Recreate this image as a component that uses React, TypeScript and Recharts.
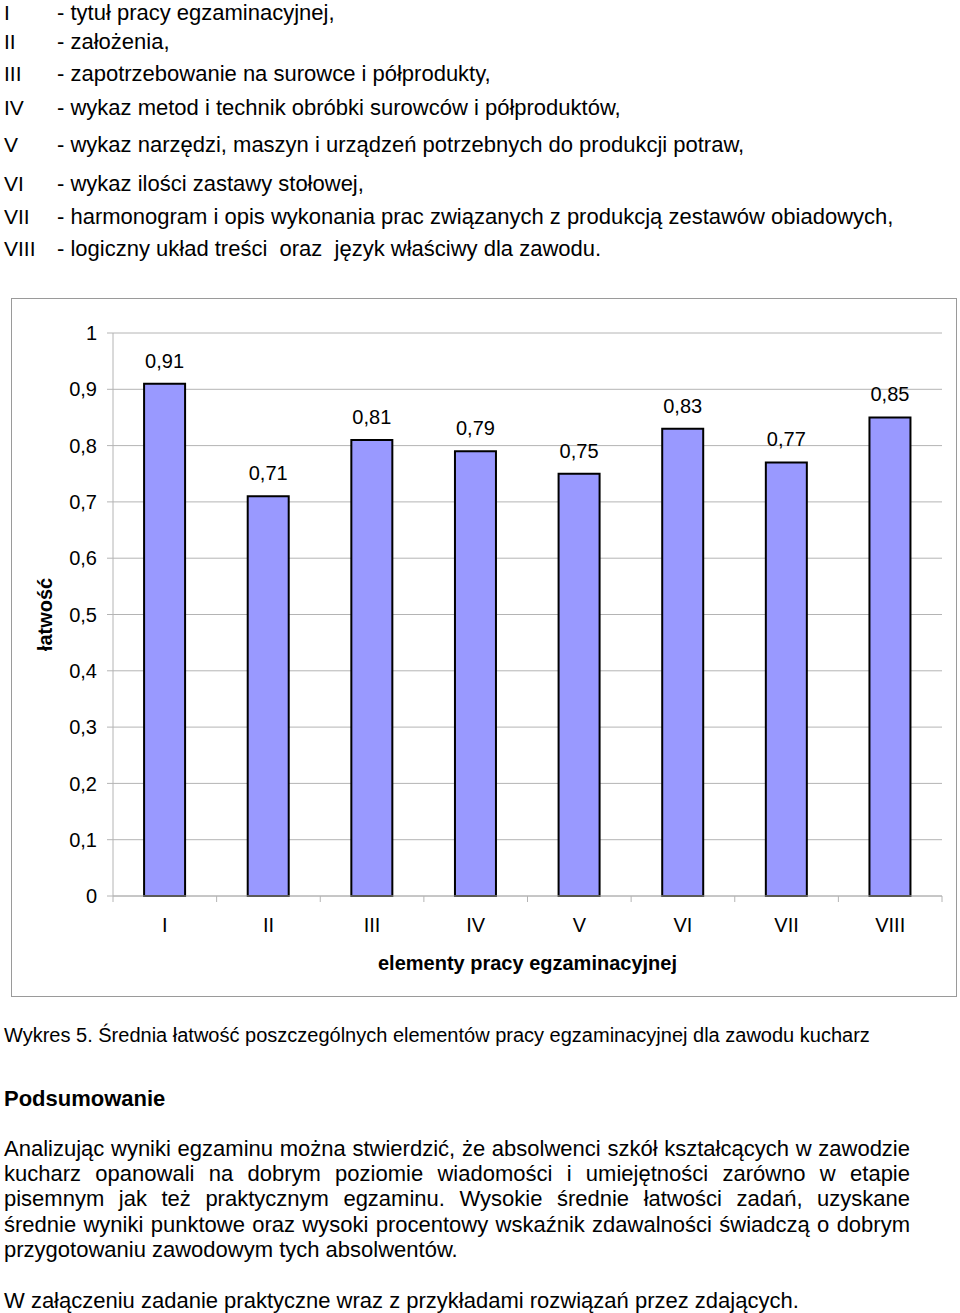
import { BarChart, Bar, XAxis, YAxis, CartesianGrid, LabelList } from 'recharts'

const elements = ['I', 'II', 'III', 'IV', 'V', 'VI', 'VII', 'VIII']
const easiness = [0.91, 0.71, 0.81, 0.79, 0.75, 0.83, 0.77, 0.85]
const yTicks = [0, 0.1, 0.2, 0.3, 0.4, 0.5, 0.6, 0.7, 0.8, 0.9, 1]

const listItems = [
  'tytuł pracy egzaminacyjnej,',
  'założenia,',
  'zapotrzebowanie na surowce i półprodukty,',
  'wykaz metod i technik obróbki surowców i półproduktów,',
  'wykaz narzędzi, maszyn i urządzeń potrzebnych do produkcji potraw,',
  'wykaz ilości zastawy stołowej,',
  'harmonogram i opis wykonania prac związanych z produkcją zestawów obiadowych,',
  'logiczny układ treści  oraz  język właściwy dla zawodu.',
]

const summaryLines = [
  'Analizując wyniki egzaminu można stwierdzić, że absolwenci szkół kształcących w zawodzie',
  'kucharz opanowali na dobrym poziomie wiadomości i umiejętności zarówno w etapie',
  'pisemnym jak też praktycznym egzaminu. Wysokie średnie łatwości zadań, uzyskane',
  'średnie wyniki punktowe oraz wysoki procentowy wskaźnik zdawalności świadczą o dobrym',
  'przygotowaniu zawodowym tych absolwentów.',
]

const chartData = elements.map((name, i) => ({ name, value: easiness[i] }))

const FONT = '"Liberation Sans", Arial, Helvetica, sans-serif'
const GRID = '#b4b4b4'
const listTops = [1, 30, 62, 96, 133, 172, 205, 237]

const fmt = (v: number) => String(v).replace('.', ',')

function ElementTick(props: any) {
  const { x, y, payload, index } = props
  const half = payload?.offset ?? 0
  const axisY = y - 22
  return (
    <g>
      <line x1={x - half} x2={x - half} y1={axisY} y2={axisY + 6} stroke={GRID} />
      {index === elements.length - 1 && (
        <line x1={x + half} x2={x + half} y1={axisY} y2={axisY + 6} stroke={GRID} />
      )}
      <text x={x} y={y} dy="0.71em" textAnchor="middle" fontSize={20} fill="#000" fontFamily={FONT}>
        {payload.value}
      </text>
    </g>
  )
}

function YTitle(props: any) {
  const vb = props.viewBox || { x: 20, y: 34, width: 81, height: 563 }
  const cx = vb.x + 13
  const cy = vb.y + vb.height / 2
  return (
    <text
      x={cx}
      y={cy}
      transform={`rotate(-90, ${cx}, ${cy})`}
      textAnchor="middle"
      dominantBaseline="central"
      fontSize={20}
      fontWeight="bold"
      fill="#000"
      fontFamily={FONT}
    >
      łatwość
    </text>
  )
}

function EasinessChart() {
  return (
    <BarChart
      width={944}
      height={697}
      data={chartData}
      margin={{ top: 34, right: 14, bottom: 0, left: 20 }}
      barCategoryGap="30%"
      style={{ fontFamily: FONT }}
    >
      <CartesianGrid vertical={false} stroke={GRID} />
      <XAxis
        dataKey="name"
        height={100}
        tickSize={6}
        tickMargin={16}
        tickLine={false}
        axisLine={{ stroke: GRID }}
        tick={<ElementTick />}
        interval={0}
        label={{
          value: 'elementy pracy egzaminacyjnej',
          position: 'insideBottom',
          offset: 26,
          fontSize: 20,
          fontWeight: 'bold',
          fill: '#000',
        }}
      />
      <YAxis
        width={81}
        domain={[0, 1]}
        ticks={yTicks}
        tickFormatter={fmt}
        tickSize={6}
        tickMargin={10}
        tickLine={{ stroke: GRID }}
        axisLine={{ stroke: GRID }}
        tick={{ fontSize: 20, fill: '#000' }}
        label={<YTitle />}
      />
      <Bar dataKey="value" fill="#9999ff" stroke="#000" strokeWidth={2} isAnimationActive={false}>
        <LabelList dataKey="value" position="top" offset={16} formatter={(v: any) => fmt(v)} fontSize={20} fill="#000" />
      </Bar>
    </BarChart>
  )
}

export default function App() {
  const text = { position: 'absolute' as const, fontSize: 22, lineHeight: '24px', color: '#000', whiteSpace: 'pre' as const }
  return (
    <div style={{ position: 'absolute', left: 0, top: 0, width: 960, height: 1313, background: '#fff', fontFamily: FONT, overflow: 'hidden' }}>
      {listItems.map((item, i) => (
        <div key={i}>
          <div style={{ ...text, fontSize: 21, left: 4, top: listTops[i] }}>{elements[i]}</div>
          <div style={{ ...text, left: 57, top: listTops[i] }}>{'- ' + item}</div>
        </div>
      ))}

      <div style={{ position: 'absolute', left: 11, top: 298, width: 944, height: 697, border: '1px solid #9a9a9a' }}>
        <EasinessChart />
      </div>

      <div style={{ ...text, fontSize: 20, left: 4, top: 1023 }}>
        Wykres 5. Średnia łatwość poszczególnych elementów pracy egzaminacyjnej dla zawodu kucharz
      </div>
      <div style={{ ...text, fontWeight: 'bold', left: 4, top: 1087 }}>Podsumowanie</div>
      {summaryLines.map((line, i) => (
        <div
          key={i}
          style={{
            ...text,
            whiteSpace: 'nowrap',
            left: 4,
            width: 906,
            top: 1137 + i * 25.2,
            textAlign: 'justify',
            textAlignLast: i < summaryLines.length - 1 ? 'justify' : 'left',
          }}
        >
          {line}
        </div>
      ))}
      <div style={{ ...text, left: 4, top: 1289 }}>
        W załączeniu zadanie praktyczne wraz z przykładami rozwiązań przez zdających.
      </div>
    </div>
  )
}
